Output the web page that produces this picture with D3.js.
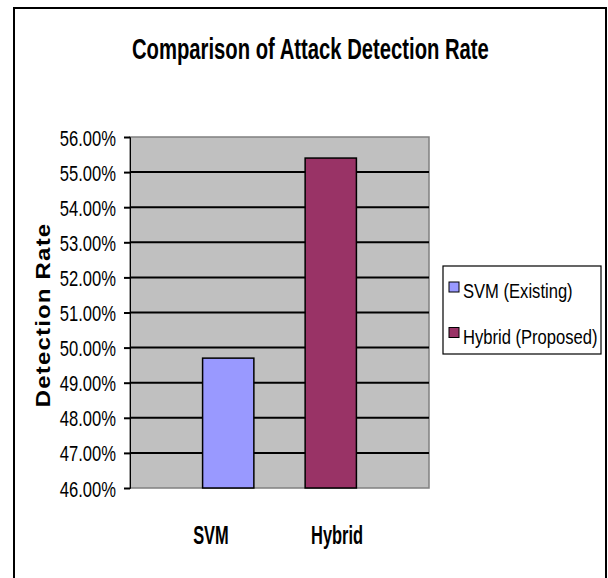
<!DOCTYPE html>
<html>
<head>
<meta charset="utf-8">
<script src="https://cdn.jsdelivr.net/npm/d3@7"></script>
<style>
  html, body { margin: 0; padding: 0; background: #ffffff; }
  svg { display: block; }
  text { font-family: "Liberation Sans", Arial, sans-serif; fill: #000000; }
</style>
</head>
<body>
<svg id="chart" width="608" height="578"></svg>
<script>
// Chart data
const categories = ["SVM", "Hybrid"];
const seriesNames = ["SVM (Existing)", "Hybrid (Proposed)"];
const detectionRate = [0.497, 0.554];
const yTicks = [0.46, 0.47, 0.48, 0.49, 0.50, 0.51, 0.52, 0.53, 0.54, 0.55, 0.56];
const seriesColors = ["#9999FF", "#993366"];

const svg = d3.select("#chart");

// Narrow, slightly tall lettering: squeeze horizontally, stretch vertically
function placeNarrow(sel, x, y, sx, sy) {
  sel.attr("x", 0).attr("y", 0)
    .attr("transform", `translate(${x},${y}) scale(${sx},${sy})`);
  return sel;
}

// Outer chart frame
svg.append("rect")
  .attr("x", 14).attr("y", 8)
  .attr("width", 592).attr("height", 590)
  .attr("fill", "#ffffff")
  .attr("stroke", "#000000")
  .attr("stroke-width", 2);

// Title
svg.append("text")
  .attr("font-size", 25)
  .attr("font-weight", "bold")
  .text("Comparison of Attack Detection Rate")
  .call(placeNarrow, 132, 59, 0.81, 1.17);

// Plot area
const plot = { left: 130, right: 429, top: 137, bottom: 488 };

const y = d3.scaleLinear()
  .domain([yTicks[0], yTicks[yTicks.length - 1]])
  .range([plot.bottom, plot.top]);

const x = d3.scaleBand()
  .domain(categories)
  .range([plot.left, plot.right])
  .paddingInner(0.5)
  .paddingOuter(0.708);

// Category labels sit under the bars, slightly spread apart
const xLabel = d3.scalePoint()
  .domain(categories)
  .range([plot.left, plot.right])
  .padding(0.686)
  .align(0.468);

svg.append("rect")
  .attr("x", plot.left).attr("y", plot.top)
  .attr("width", plot.right - plot.left)
  .attr("height", plot.bottom - plot.top)
  .attr("fill", "#C0C0C0")
  .attr("stroke", "#808080")
  .attr("stroke-width", 1.5);

// Horizontal gridlines
svg.append("g")
  .selectAll("line")
  .data(yTicks.slice(1, -1))
  .join("line")
  .attr("x1", plot.left).attr("x2", plot.right)
  .attr("y1", d => y(d)).attr("y2", d => y(d))
  .attr("stroke", "#000000")
  .attr("stroke-width", 2);

// Bars
svg.append("g")
  .selectAll("rect")
  .data(categories)
  .join("rect")
  .attr("x", d => x(d))
  .attr("y", (d, i) => y(detectionRate[i]))
  .attr("width", x.bandwidth())
  .attr("height", (d, i) => y(yTicks[0]) - y(detectionRate[i]))
  .attr("fill", (d, i) => seriesColors[i])
  .attr("stroke", "#000000")
  .attr("stroke-width", 1.5);

// Y axis
const yAxis = svg.append("g")
  .attr("transform", `translate(${plot.left},0)`)
  .call(d3.axisLeft(y).tickValues(yTicks).tickFormat(d3.format(".2%")).tickSize(6).tickPadding(8));

yAxis.select(".domain").attr("stroke", "#000000").attr("stroke-width", 1);
yAxis.selectAll(".tick line").attr("stroke", "#000000").attr("stroke-width", 2);
yAxis.selectAll(".tick text")
  .attr("font-size", 20)
  .attr("font-family", "'Liberation Sans', Arial, sans-serif")
  .attr("text-anchor", "end")
  .attr("dy", "0.36em")
  .call(placeNarrow, -14, 0, 0.83, 1.12);

// Y axis title
svg.append("text")
  .attr("transform", "translate(50,315) rotate(-90) scale(1.2,1)")
  .attr("text-anchor", "middle")
  .attr("font-size", 20)
  .attr("font-weight", "bold")
  .attr("letter-spacing", 1)
  .text("Detection Rate");

// Category labels
svg.append("g")
  .selectAll("text")
  .data(categories)
  .join("text")
  .attr("text-anchor", "middle")
  .attr("font-size", 20)
  .attr("font-weight", "bold")
  .text(d => d)
  .each(function (d) {
    d3.select(this).call(placeNarrow, xLabel(d), 544, 0.82, 1.3);
  });

// Legend
const legend = svg.append("g").attr("transform", "translate(443,266)");
legend.append("rect")
  .attr("width", 158).attr("height", 88)
  .attr("fill", "#ffffff")
  .attr("stroke", "#000000")
  .attr("stroke-width", 1.2);

const items = legend.selectAll("g.item")
  .data(seriesNames)
  .join("g")
  .attr("class", "item")
  .attr("transform", (d, i) => `translate(6,${16 + i * 45.5})`);

items.append("rect")
  .attr("width", 10).attr("height", 10)
  .attr("fill", (d, i) => seriesColors[i])
  .attr("stroke", "#000000")
  .attr("stroke-width", 1);

items.append("text")
  .attr("font-size", 20)
  .text(d => d)
  .call(placeNarrow, 14, 16, 0.83, 1.05);
</script>
</body>
</html>
